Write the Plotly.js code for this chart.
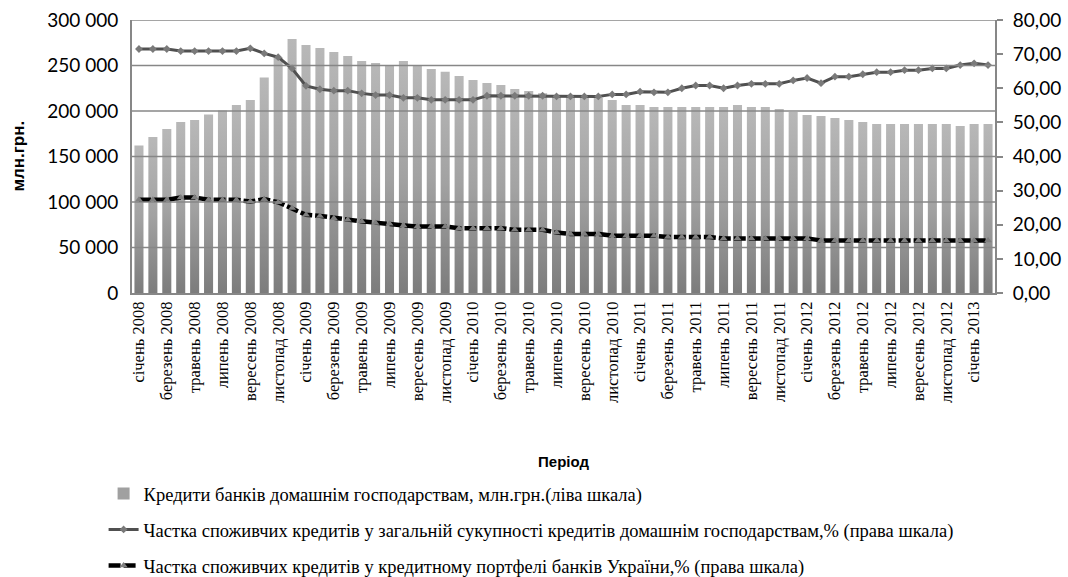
<!DOCTYPE html>
<html>
<head>
<meta charset="utf-8">
<script src="https://cdn.plot.ly/plotly-3.0.1.min.js"></script>
<style>
html,body{margin:0;padding:0;background:#fff;}
#chart{width:1068px;height:577px;}
</style>
</head>
<body>
<div id="chart"></div>
<script>
// Month names and years used to build category labels
const monthNames = ["січень","лютий","березень","квітень","травень","червень","липень","серпень","вересень","жовтень","листопад","грудень"];
const years = [2008, 2009, 2010, 2011, 2012, 2013];
const monthCount = 62; // січень 2008 – лютий 2013

const categories = [];
for (let i = 0; i < monthCount; i++) {
  categories.push(monthNames[i % 12] + " " + years[Math.floor(i / 12)]);
}
const tickLabels = categories.filter((c, i) => i % 2 === 0);

// Left-axis tick values (also used for the gridlines drawn above the bars)
const leftTicks = [0, 50000, 100000, 150000, 200000, 250000, 300000];

// Кредити банків домашнім господарствам, млн.грн.
const householdLoans = [
  162000, 171500, 180300, 188000, 190200, 196100, 200500, 206700, 212200, 236700,
  259000, 279100, 272500, 269200, 264800, 260400, 254900, 252700, 250500, 254900,
  250500, 246100, 243000, 238500, 234100, 230800, 228600, 224200, 222000, 219600,
  217700, 216600, 215800, 214500, 212200, 206700, 206700, 204500, 204500, 204500,
  204500, 204500, 204500, 206700, 204500, 204500, 202300, 199000, 195700, 194600,
  192400, 190200, 188000, 185800, 185800, 185800, 185800, 185800, 185800, 183600,
  185800, 185800
];

// Частка споживчих кредитів у загальній сукупності кредитів домашнім господарствам, %
const shareOfHousehold = [
  71.5, 71.5, 71.5, 70.9, 70.9, 70.9, 70.9, 70.9, 71.7, 70.2,
  69.1, 65.8, 60.7, 59.7, 59.3, 59.3, 58.5, 58.0, 58.0, 57.2,
  57.2, 56.6, 56.6, 56.6, 56.6, 57.8, 57.8, 57.8, 57.8, 57.8,
  57.6, 57.6, 57.6, 57.6, 58.2, 58.2, 59.0, 58.8, 58.8, 60.0,
  60.8, 60.8, 60.0, 60.8, 61.3, 61.3, 61.3, 62.3, 63.0, 61.5,
  63.4, 63.4, 64.1, 64.7, 64.7, 65.3, 65.3, 65.8, 65.8, 66.8,
  67.3, 66.8
];

// Частка споживчих кредитів у кредитному портфелі банків України, %
const shareOfPortfolio = [
  27.3, 27.3, 27.3, 28.0, 28.0, 27.3, 27.3, 27.3, 26.8, 27.5,
  26.6, 24.9, 22.9, 22.6, 21.9, 21.5, 21.0, 20.5, 20.3, 19.8,
  19.5, 19.5, 19.5, 19.0, 19.0, 19.0, 19.0, 18.5, 18.5, 18.5,
  17.7, 17.3, 17.3, 17.3, 16.8, 16.8, 16.8, 16.8, 16.4, 16.4,
  16.4, 16.4, 16.0, 16.0, 16.0, 16.0, 16.0, 16.0, 16.0, 15.4,
  15.4, 15.4, 15.4, 15.4, 15.4, 15.4, 15.4, 15.4, 15.4, 15.4,
  15.4, 15.4
];

const seriesNames = [
  "Кредити банків домашнім господарствам, млн.грн.(ліва шкала)",
  "Частка споживчих кредитів у загальній сукупності кредитів домашнім господарствам,% (права шкала)",
  "Частка споживчих кредитів у кредитному портфелі банків України,% (права шкала)"
];

const gridColor = "#878787";
const serif = "Liberation Serif, Times New Roman, DejaVu Serif, serif";
const sansBold = "Liberation Sans, Arial, sans-serif";

const traces = [
  {
    type: "bar", x: categories, y: householdLoans, name: seriesNames[0],
    marker: {color: "#a0a0a0", line: {width: 0}},
    legendgroup: "a", yaxis: "y", hoverinfo: "x+y"
  },
  {
    type: "scatter", mode: "lines+markers", x: categories, y: shareOfHousehold, name: seriesNames[1],
    line: {color: "#505050", width: 3},
    marker: {symbol: "diamond", size: 6, color: "#7a7a7a"},
    legendgroup: "b", yaxis: "y2"
  },
  {
    type: "scatter", mode: "lines+markers", x: categories, y: shareOfPortfolio, name: seriesNames[2],
    line: {color: "#000000", width: 4.5, dash: "12px,3px"},
    marker: {symbol: "triangle-up", size: 7, color: "#808080"},
    legendgroup: "c", yaxis: "y2"
  }
];

const gridShapes = leftTicks.filter(v => v > 0).map(v => ({
  type: "line", xref: "paper", x0: 0, x1: 1, yref: "y", y0: v, y1: v,
  line: {color: gridColor, width: 1.5}, layer: "above"
}));

const layout = {
  width: 1068, height: 577,
  margin: {l: 132, r: 73, t: 20, b: 284, autoexpand: false},
  paper_bgcolor: "#fff", plot_bgcolor: "#fff",
  separators: ", ",
  bargap: 0.35,
  showlegend: true,
  shapes: gridShapes,
  font: {family: "Lato, Open Sans, sans-serif", color: "#000"},
  annotations: [{
    text: "млн.грн.", textangle: -90, showarrow: false,
    xref: "paper", yref: "paper", x: -0.132, y: 0.5, xanchor: "center", yanchor: "middle",
    font: {family: sansBold, size: 17, weight: 700, color: "#000"}
  }],
  xaxis: {
    type: "category",
    tickmode: "array", tickvals: tickLabels, ticktext: tickLabels,
    tickangle: -90,
    tickfont: {family: serif, size: 16.5, color: "#000"},
    showline: true, linecolor: gridColor, linewidth: 2,
    ticks: "", showgrid: false,
    range: [-0.5, monthCount - 0.5],
    title: {text: "Період", font: {family: sansBold, size: 15, weight: 700, color: "#000"}, standoff: 55}
  },
  yaxis: {
    range: [0, 300000], tickmode: "array", tickvals: leftTicks, tickformat: ",d",
    tickfont: {family: "Lato, sans-serif", size: 19, color: "#000"},
    showgrid: false,
    showline: true, linecolor: gridColor, linewidth: 2,
    zeroline: false, ticks: "", ticklabelstandoff: 8
  },
  yaxis2: {
    overlaying: "y", side: "right",
    range: [0, 80], dtick: 10, tickformat: ".2f",
    tickfont: {family: "Lato, sans-serif", size: 19, color: "#000"},
    showgrid: false, zeroline: false,
    showline: true, linecolor: gridColor, linewidth: 2,
    ticks: "outside", ticklen: 6, tickcolor: gridColor, tickwidth: 2,
    ticklabelstandoff: 6
  },
  legend: {
    orientation: "v",
    xref: "container", yref: "container",
    x: 0.097, y: 0.177, xanchor: "left", yanchor: "top",
    tracegroupgap: 9,
    traceorder: "grouped",
    font: {family: serif, size: 18.5, color: "#000"},
    bgcolor: "rgba(0,0,0,0)"
  }
};

Plotly.newPlot("chart", traces, layout, {staticPlot: true, displayModeBar: false}).then(function (gd) {
  const svg = gd.querySelector(".main-svg");
  const ns = "http://www.w3.org/2000/svg";
  let defs = svg.querySelector("defs");
  if (!defs) { defs = document.createElementNS(ns, "defs"); svg.insertBefore(defs, svg.firstChild); }
  function makeGrad(id, horizontal) {
    const grad = document.createElementNS(ns, "linearGradient");
    grad.setAttribute("id", id);
    grad.setAttribute("x1", "0"); grad.setAttribute("y1", "0");
    grad.setAttribute("x2", horizontal ? "1" : "0"); grad.setAttribute("y2", horizontal ? "0" : "1");
    [["0%", "#b8b8b8"], ["50%", "#a2a2a2"], ["100%", "#7c7c7c"]].forEach(function (s) {
      const st = document.createElementNS(ns, "stop");
      st.setAttribute("offset", s[0]); st.setAttribute("stop-color", s[1]);
      grad.appendChild(st);
    });
    defs.appendChild(grad);
  }
  makeGrad("barGrad", false);
  makeGrad("barGradH", true);
  gd.querySelectorAll(".barlayer .point path").forEach(function (p) { p.style.fill = "url(#barGrad)"; });
  gd.querySelectorAll(".legend .legendbar path").forEach(function (p) { p.style.fill = "url(#barGradH)"; });
});
</script>
</body>
</html>
